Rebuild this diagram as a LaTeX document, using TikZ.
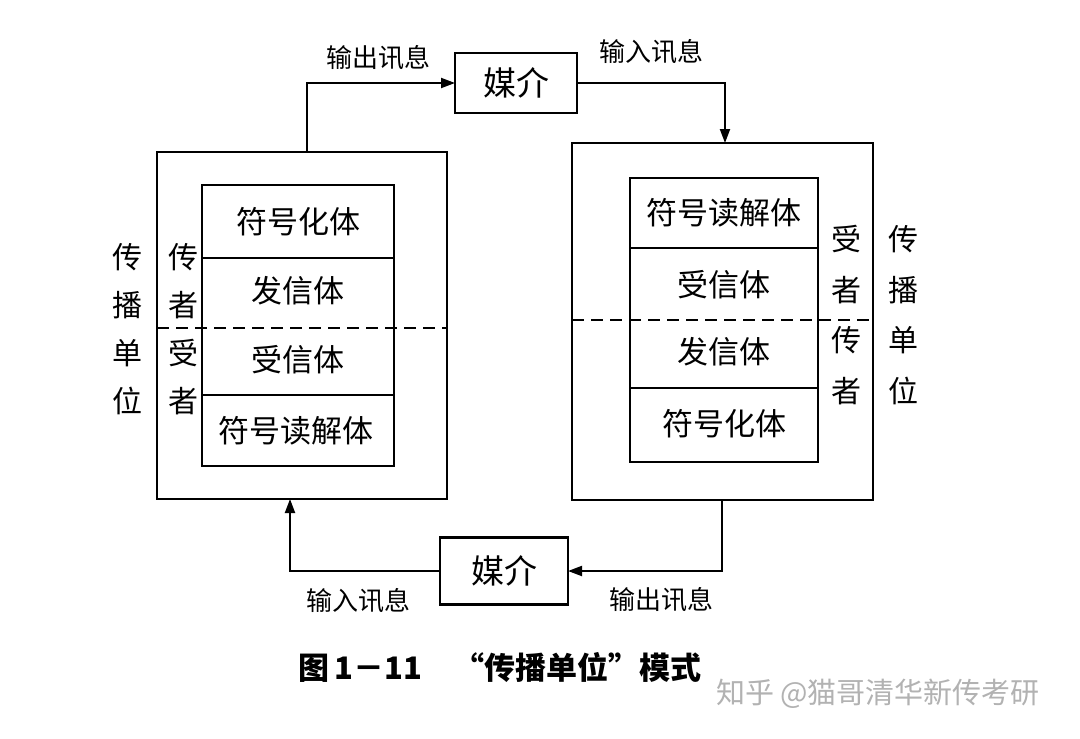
\documentclass[tikz,border=0pt]{standalone}
\usepackage{fontspec}
\setmainfont{Noto Sans CJK SC}
\usetikzlibrary{arrows.meta}
\tikzset{
  frame/.style={draw, line width=2.6pt, inner sep=0pt, outer sep=0pt},
  cell/.style={draw, line width=2.6pt, inner sep=0pt, outer sep=0pt, minimum width=192pt},
  celltxt/.style={inner sep=0pt, font=\fontsize{31}{31}\selectfont},
  media/.style={draw, line width=2.6pt, inner sep=0pt, outer sep=0pt, font=\fontsize{33}{33}\selectfont},
  lbl/.style={inner sep=0pt, font=\fontsize{26}{26}\selectfont},
  vlbl/.style={inner sep=0pt, align=center, font=\fontsize{30}{48}\selectfont},
  vlblr/.style={inner sep=0pt, align=center, font=\fontsize{30}{50.5}\selectfont},
  conn/.style={line width=2pt, -{Triangle[length=14pt,width=10pt]}},
  divider/.style={line width=1.8pt, dash pattern=on 12pt off 7pt}
}
\begin{document}
\begin{tikzpicture}[x=1pt,y=-1pt]
\useasboundingbox[fill=white] (0,0) rectangle (1080,739);
% outer frames
\node[frame, minimum width=290pt, minimum height=347pt] (LO) at (302,325.5) {};
\node[frame, minimum width=301pt, minimum height=357pt] (RO) at (722.5,321.5) {};
% left inner cells
\node[cell, minimum height=73pt] (L1) at (298,221.5) {};
\node[cell, minimum height=137pt] (L2) at (298,326.5) {};
\node[cell, minimum height=71pt] (L3) at (298,430.5) {};
\node[celltxt] (t1) at (298,222) {符号化体};
\node[celltxt] (t2) at (298,291) {发信体};
\node[celltxt] (t3) at (298,360) {受信体};
\node[celltxt] (t4) at (296,431) {符号读解体};
% right inner cells
\node[cell, minimum width=188pt, minimum height=70pt] (R1) at (724,213) {};
\node[cell, minimum width=188pt, minimum height=140pt] (R2) at (724,318) {};
\node[cell, minimum width=188pt, minimum height=74pt] (R3) at (724,425) {};
\node[celltxt] (u1) at (724,213) {符号读解体};
\node[celltxt] (u2) at (724,285) {受信体};
\node[celltxt] (u3) at (724,352) {发信体};
\node[celltxt] (u4) at (724,424) {符号化体};
% dashed dividers
\coordinate (dl) at (0,328);
\coordinate (dr) at (0,320);
\draw[divider] (LO.west |- dl) -- (LO.east |- dl);
\draw[divider] (RO.west |- dr) -- (RO.east |- dr);
% vertical labels
\node[vlbl] (lu) at (127,329) {传\\播\\单\\位};
\node[vlbl] (ls) at (183,329) {传\\者\\受\\者};
\node[vlblr] (rs) at (846,315) {受\\者\\传\\者};
\node[vlblr] (ru) at (903,315) {传\\播\\单\\位};
% media boxes
\node[media, minimum width=122pt, minimum height=60pt] (M1) at (516,83) {媒介};
\node[media, minimum width=128pt, minimum height=67pt] (M2) at (504,571) {媒介};
% connectors
\coordinate (c1) at (307,0);
\coordinate (c2) at (725,0);
\coordinate (c3) at (722,0);
\coordinate (c4) at (290,0);
\draw[conn] (LO.north -| c1) |- (M1.west);
\draw[conn] (M1.east) -| (RO.north -| c2);
\draw[conn] (RO.south -| c3) |- (M2.east);
\draw[conn] (M2.west) -| (LO.south -| c4);
% connector labels
\node[lbl] (a1) at (378,58) {输出讯息};
\node[lbl] (a2) at (651,52) {输入讯息};
\node[lbl] (a3) at (358,601) {输入讯息};
\node[lbl] (a4) at (661,600) {输出讯息};
% caption
\node[inner sep=0pt, font=\fontsize{31}{31}\selectfont\bfseries] (cap) at (500,667) {图\,1－11\quad “传播单位”模式};
\node[inner sep=0pt, text=black!30, font=\fontsize{29}{29}\selectfont] (wm) at (878,694) {知乎 @猫哥清华新传考研};
\end{tikzpicture}
\end{document}
